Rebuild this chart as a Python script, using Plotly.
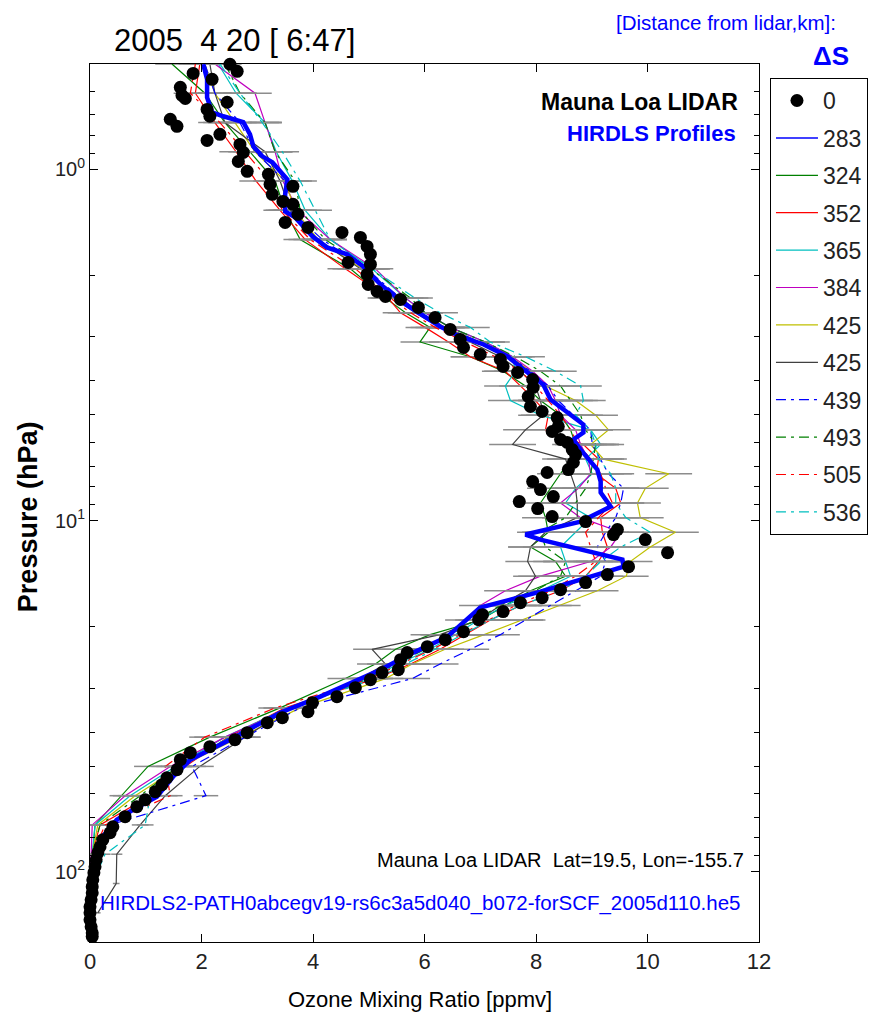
import plotly.graph_objects as go

# ---------------- Mauna Loa lidar ozone profile ----------------
LIDAR_PPMV = [2.51, 2.64, 1.85, 2.19, 1.62, 1.65, 1.71, 2.46, 2.10, 2.15,
              1.44, 1.56, 2.33, 2.10, 2.69, 2.75, 2.66, 2.82, 3.20, 3.23,
              3.64, 3.27, 3.46, 3.64, 3.73, 3.50, 3.91, 4.52, 4.85, 4.97,
              5.03, 4.63, 5.03, 4.97, 4.99, 5.15, 5.30, 5.57, 5.89, 6.19,
              6.46, 6.64, 6.70, 7.00, 7.36, 7.41, 7.67, 7.94, 7.95, 7.86,
              7.90, 8.11, 8.38, 8.40, 8.29, 8.44, 8.56, 8.65, 8.71, 8.67,
              8.58, 8.20, 7.94, 8.08, 8.31, 7.70, 8.03, 8.29, 8.89, 9.46,
              9.39, 9.96, 10.36, 9.66, 9.28, 8.89, 8.44, 8.11, 7.72, 7.41,
              7.04, 6.97, 6.70, 6.37, 6.05, 5.69, 5.57, 5.53, 5.24, 5.03,
              4.76, 4.43, 3.99, 3.91, 3.45, 3.18, 2.82, 2.60, 2.15, 1.80,
              1.62, 1.56, 1.38, 1.29, 1.17, 0.99, 0.84, 0.63, 0.41, 0.36,
              0.23, 0.18, 0.14, 0.11, 0.09, 0.07, 0.05, 0.04, 0.04, 0.02,
              0.00, 0.00, 0.00, 0.02, 0.04, 0.04]
LIDAR_HPA = [0.502, 0.526, 0.533, 0.554, 0.584, 0.616, 0.628, 0.644, 0.675, 0.706,
             0.720, 0.754, 0.795, 0.827, 0.849, 0.895, 0.949, 1.013, 1.033, 1.103,
             1.118, 1.178, 1.234, 1.258, 1.343, 1.416, 1.463, 1.512, 1.562, 1.657,
             1.746, 1.841, 1.865, 1.991, 2.126, 2.227, 2.301, 2.346, 2.473, 2.641,
             2.856, 3.050, 3.215, 3.366, 3.478, 3.641, 3.787, 3.966, 4.180, 4.434,
             4.734, 4.892, 5.089, 5.397, 5.577, 5.878, 5.995, 6.279, 6.486, 6.835,
             7.157, 7.298, 7.743, 8.160, 8.543, 8.830, 9.244, 9.741, 10.07, 10.61,
             10.96, 11.33, 12.34, 13.53, 14.25, 15.02, 15.73, 16.58, 17.13, 18.16,
             18.53, 19.14, 20.72, 21.83, 22.86, 23.77, 24.89, 26.59, 27.10, 28.38,
             29.91, 31.72, 33.00, 35.01, 36.41, 37.63, 40.18, 42.06, 44.05, 45.81,
             47.97, 51.23, 53.99, 56.52, 59.18, 62.37, 65.29, 69.70, 74.44, 77.43,
             81.06, 84.88, 88.30, 92.43, 96.78, 100.6, 105.4, 110.3, 114.8, 120.2,
             125.8, 130.9, 137.0, 143.5, 149.2, 153.0]

# ---------------- HIRDLS profile nearest the lidar (283 km) ----------------
H283_PPMV = [2.03, 2.06, 2.10, 2.10, 2.19, 2.39, 2.75, 2.87, 2.93, 3.09,
             3.27, 3.54, 3.50, 3.50, 3.68, 3.99, 4.25, 4.61, 4.90, 5.21,
             5.66, 6.28, 6.64, 7.06, 7.49, 7.85, 8.13, 8.26, 8.62, 8.85,
             8.85, 8.67, 8.80, 9.10, 9.16, 9.16, 9.34, 8.98, 8.80, 7.81,
             8.08, 9.55, 9.57, 8.80, 8.08, 7.00, 6.41, 5.80, 5.21, 4.13,
             3.41, 2.51, 1.80, 1.49, 1.20, 0.77, 0.48, 0.18, 0.05, 0.04,
             0.02]
H283_HPA = [0.502, 0.519, 0.554, 0.624, 0.688, 0.706, 0.734, 0.795, 0.860, 0.918,
            0.955, 1.068, 1.178, 1.317, 1.370, 1.552, 1.668, 1.746, 1.889, 2.126,
            2.425, 2.801, 2.991, 3.152, 3.411, 3.787, 4.098, 4.521, 4.989, 5.328,
            5.615, 5.878, 6.279, 7.157, 7.743, 8.323, 9.124, 9.741, 10.07, 10.96,
            11.33, 12.91, 13.53, 14.73, 15.94, 17.70, 21.41, 23.77, 26.59, 31.72,
            35.24, 42.06, 47.97, 53.63, 61.13, 66.58, 71.11, 81.06, 98.7, 120.2,
            146.0]

# ---------------- Other HIRDLS profiles on a common pressure grid ----------------
GRID_HPA = [0.501, 0.607, 0.736, 0.891, 1.080, 1.308, 1.585, 1.920, 2.326, 2.561,
            2.818, 3.102, 3.415, 3.758, 4.137, 4.553, 5.012, 5.517, 6.072, 6.683,
            7.356, 8.097, 8.913, 9.810, 10.80, 11.89, 13.08, 14.40, 15.85, 17.45,
            19.20, 21.13, 23.26, 25.61, 28.18, 34.15, 41.37, 50.12, 60.73, 73.56,
            89.13, 108.0, 130.9]

H324 = [1.47, 2.06, 2.42, 2.87, 3.32, 3.50, 3.77, 4.67, 5.30, 5.66,
        6.10, 5.92, 6.82, 7.41, 7.81, 8.08, 8.44, 8.62, 8.71, 8.62,
        8.44, 8.26, 8.08, 8.17, 8.22, 7.90, 8.35, 8.53, 7.90, 7.45,
        7.00, 6.10, 5.48, 5.12, 4.58, 3.41, 2.15, 1.04, 0.57, 0.09,
        0.05, 0.02, 0.00]
H352 = [1.97, 1.89, 2.24, 2.62, 2.98, 3.41, 3.86, 4.58, 5.35, 5.57,
        6.01, 6.43, 6.82, 7.45, 7.72, 7.99, 8.22, 8.17, 8.85, 9.12,
        9.08, 9.43, 9.52, 9.16, 9.19, 9.28, 9.12, 8.89, 8.44, 7.72,
        7.18, 6.73, 6.28, 5.75, 5.12, 3.50, 2.48, 1.71, 1.08, 0.18,
        0.04, 0.02, 0.00]
H365 = [2.30, 2.62, 3.14, 3.34, 3.63, 3.86, 4.31, 5.06, 5.66, 6.01,
        6.46, 7.09, 7.58, 7.63, 7.45, 7.54, 8.08, 8.98, 9.16, 8.89,
        9.01, 8.71, 8.53, 8.98, 8.71, 8.44, 8.53, 8.62, 8.08, 7.45,
        6.97, 6.55, 6.10, 5.53, 5.03, 3.55, 2.42, 1.53, 0.72, 0.09,
        0.04, 0.02, 0.00]
H384 = [2.24, 2.96, 3.14, 3.32, 3.46, 3.73, 4.31, 5.12, 5.66, 6.01,
        6.46, 7.09, 7.58, 7.94, 8.22, 8.35, 8.44, 8.71, 8.80, 8.94,
        8.98, 8.76, 8.44, 8.80, 9.52, 9.34, 8.98, 8.08, 7.45, 7.00,
        6.73, 6.43, 5.92, 5.42, 4.94, 3.59, 2.42, 1.44, 0.63, 0.04,
        0.02, 0.00, 0.00]
H425A = [2.06, 2.24, 2.60, 2.96, 3.50, 3.68, 4.09, 4.88, 5.57, 5.92,
         6.37, 7.00, 7.54, 7.90, 8.17, 8.71, 9.07, 9.30, 8.98, 9.21,
         10.38, 9.96, 9.82, 9.87, 10.50, 10.05, 9.69, 9.62, 9.10, 8.42,
         7.77, 7.07, 6.37, 5.78, 5.30, 3.77, 2.69, 1.62, 0.81, 0.14,
         0.04, 0.02, 0.00]
H425B = [2.15, 2.24, 2.42, 3.14, 3.41, 3.59, 4.09, 4.85, 5.48, 5.83,
         6.28, 6.82, 7.36, 7.72, 7.99, 8.08, 8.13, 7.81, 7.58, 8.53,
         8.62, 8.71, 8.74, 8.74, 8.17, 7.90, 7.85, 7.99, 7.81, 7.36,
         6.97, 6.28, 5.06, 5.30, 4.85, 3.59, 2.78, 1.97, 1.35, 0.90,
         0.48, 0.47, 0.14]
H439 = [2.06, 2.24, 2.69, 2.96, 3.50, 3.59, 4.17, 4.96, 5.57, 5.92,
        6.37, 7.00, 7.54, 7.90, 8.22, 8.40, 8.67, 8.98, 9.01, 9.16,
        9.30, 9.57, 9.52, 9.43, 9.25, 9.10, 9.25, 9.16, 8.71, 8.26,
        7.81, 7.36, 6.82, 6.28, 5.78, 3.77, 2.78, 1.83, 2.08, 0.36,
        0.09, 0.04, 0.00]
H493 = [2.42, 2.69, 3.14, 3.32, 3.68, 3.77, 4.22, 5.03, 5.75, 6.01,
        6.46, 7.09, 7.63, 8.08, 8.44, 8.62, 8.80, 8.89, 9.07, 9.03,
        8.98, 8.89, 8.71, 8.53, 8.08, 8.17, 8.53, 8.44, 7.99, 7.36,
        6.91, 6.46, 6.01, 5.48, 4.99, 3.59, 2.51, 1.58, 0.90, 0.18,
        0.04, 0.02, 0.00]
H505 = [1.89, 1.80, 2.33, 2.78, 3.23, 3.45, 3.95, 4.76, 5.39, 5.75,
        6.19, 6.73, 7.27, 7.72, 7.99, 8.22, 8.44, 8.62, 8.76, 8.98,
        9.16, 9.25, 9.37, 9.12, 8.89, 8.98, 9.07, 8.71, 8.26, 7.63,
        7.15, 6.64, 6.14, 5.57, 5.03, 3.32, 2.06, 1.35, 1.44, 0.27,
        0.05, 0.02, 0.00]
H536 = [2.33, 2.69, 3.09, 3.45, 3.77, 4.04, 4.31, 5.06, 5.83, 6.28,
        6.82, 7.18, 7.81, 8.35, 8.80, 8.85, 8.71, 8.98, 9.07, 9.12,
        9.34, 9.43, 9.43, 9.61, 10.05, 9.52, 9.16, 8.89, 8.44, 7.72,
        7.18, 6.68, 6.19, 5.66, 5.12, 3.59, 2.51, 1.58, 1.08, 0.99,
        0.27, 0.05, 0.00]

# retrieval uncertainty (ppmv) at each grid level
ERR_PPMV = [0.30, 0.30, 0.30, 0.30, 0.30, 0.30, 0.30, 0.32,
            0.32, 0.32, 0.35, 0.35, 0.35, 0.38, 0.38, 0.40, 0.40, 0.40,
            0.42, 0.42, 0.42, 0.42, 0.42, 0.42, 0.42, 0.40, 0.40, 0.40,
            0.38, 0.38, 0.36, 0.35, 0.34, 0.33, 0.32,
            0.30, 0.28, 0.25, 0.22, 0.15, 0.10, 0.06, 0.05]

# legend labels: distance from lidar (km)
LABELS = ["0", "283", "324", "352", "365", "384", "425", "425", "439", "493", "505", "536"]

FONT = "Liberation Sans, Arial, sans-serif"
DASHDOT = "10px,5px,3px,5px"

thin_series = [
    (H324, LABELS[2], "#008000", "solid"),
    (H352, LABELS[3], "#ff0000", "solid"),
    (H365, LABELS[4], "#00bfbf", "solid"),
    (H384, LABELS[5], "#bf00bf", "solid"),
    (H425A, LABELS[6], "#bfbf00", "solid"),
    (H425B, LABELS[7], "#404040", "solid"),
    (H439, LABELS[8], "#0000ff", DASHDOT),
    (H493, LABELS[9], "#008000", DASHDOT),
    (H505, LABELS[10], "#ff0000", DASHDOT),
    (H536, LABELS[11], "#00bfbf", DASHDOT),
]

fig = go.Figure()

for rank, (vals, name, color, dash) in enumerate(thin_series, start=3):
    fig.add_trace(go.Scatter(
        x=vals, y=GRID_HPA, mode="lines", name=name,
        legendgroup=f"g{rank}", legendrank=rank,
        line=dict(color=color, width=1.2, dash=dash),
        error_x=dict(type="data", array=ERR_PPMV, color="#8c8c8c",
                     thickness=1.5, width=0),
    ))

# heavy 283 km profile; its legend key is drawn with a thin line
fig.add_trace(go.Scatter(
    x=H283_PPMV, y=H283_HPA, mode="lines", name=LABELS[1],
    showlegend=False, line=dict(color="#0000ff", width=4.5),
))
fig.add_trace(go.Scatter(
    x=[None], y=[None], mode="lines", name=LABELS[1],
    legendgroup="g2", legendrank=2,
    line=dict(color="#0000ff", width=1.5),
))

fig.add_trace(go.Scatter(
    x=LIDAR_PPMV, y=LIDAR_HPA, mode="markers", name=LABELS[0],
    legendgroup="g1", legendrank=1, cliponaxis=False,
    marker=dict(color="black", size=13, symbol="circle"),
))

minor_p = [m * d for d in (0.1, 1, 10, 100) for m in range(2, 10) if 0.5 < m * d < 158]

fig.update_layout(
    width=883, height=1020,
    margin=dict(l=90, r=124, t=64, b=78),
    paper_bgcolor="white", plot_bgcolor="white",
    font=dict(family=FONT, size=20, color="black"),
    showlegend=True,
    legend=dict(
        x=1.0164, y=0.984, xanchor="left", yanchor="top",
        bordercolor="black", borderwidth=1, bgcolor="white",
        font=dict(family=FONT, size=23, color="#222"),
        traceorder="grouped", tracegroupgap=4.5, itemwidth=42,
    ),
    xaxis=dict(
        range=[0, 12], dtick=2, tick0=0, showgrid=False, zeroline=False,
        showline=True, linecolor="black", linewidth=1, mirror="ticks",
        ticks="inside", ticklen=8, tickcolor="black",
        tickfont=dict(family=FONT, size=22, color="#222"),
    ),
    yaxis=dict(
        type="log", range=[2.2, -0.3], showgrid=False, zeroline=False,
        showline=True, linecolor="black", linewidth=1, mirror="ticks",
        ticks="inside", ticklen=8, tickcolor="black",
        tickvals=[1, 10, 100],
        ticktext=["10<sup>0</sup>", "10<sup>1</sup>", "10<sup>2</sup>"],
        tickfont=dict(family=FONT, size=20, color="#222"),
        minor=dict(tickvals=minor_p, ticks="inside", ticklen=5, tickcolor="black"),
    ),
)

ann = [
    dict(text="2005\u00a0 4 20 [ 6:47]", x=0.0329, y=1.0273, xanchor="left", yanchor="middle",
         font=dict(size=31, color="black")),
    dict(text="[Distance from lidar,km]:", x=1.118, y=1.0478, xanchor="right", yanchor="middle",
         font=dict(size=20.5, color="#0000ff")),
    dict(text="<b>\u0394S</b>", x=1.1076, y=1.0091, xanchor="center", yanchor="middle",
         font=dict(size=26, color="#0000ff")),
    dict(text="<b>Mauna Loa LIDAR</b>", x=0.9716, y=0.9567, xanchor="right", yanchor="middle",
         font=dict(size=23, color="black")),
    dict(text="<b>HIRDLS Profiles</b>", x=0.9686, y=0.9203, xanchor="right", yanchor="middle",
         font=dict(size=22, color="#0000ff")),
    dict(text="Mauna Loa LIDAR\u00a0 Lat=19.5, Lon=-155.7", x=0.9806, y=0.0934,
         xanchor="right", yanchor="middle",
         font=dict(size=20, color="black")),
    dict(text="HIRDLS2-PATH0abcegv19-rs6c3a5d040_b072-forSCF_2005d110.he5", x=0.012, y=0.0444,
         xanchor="left", yanchor="middle",
         font=dict(size=20.5, color="#0000ff")),
    dict(text="Ozone Mixing Ratio [ppmv]", x=0.4933, y=-0.066, xanchor="center", yanchor="middle",
         font=dict(size=22, color="black")),
    dict(text="<b>Pressure (hPa)</b>", x=-0.0927, y=0.485, xanchor="center", yanchor="middle",
         textangle=-90, font=dict(size=27, color="black")),
]
for a in ann:
    fig.add_annotation(xref="paper", yref="paper", showarrow=False, **a)

fig.write_html("out.html")
